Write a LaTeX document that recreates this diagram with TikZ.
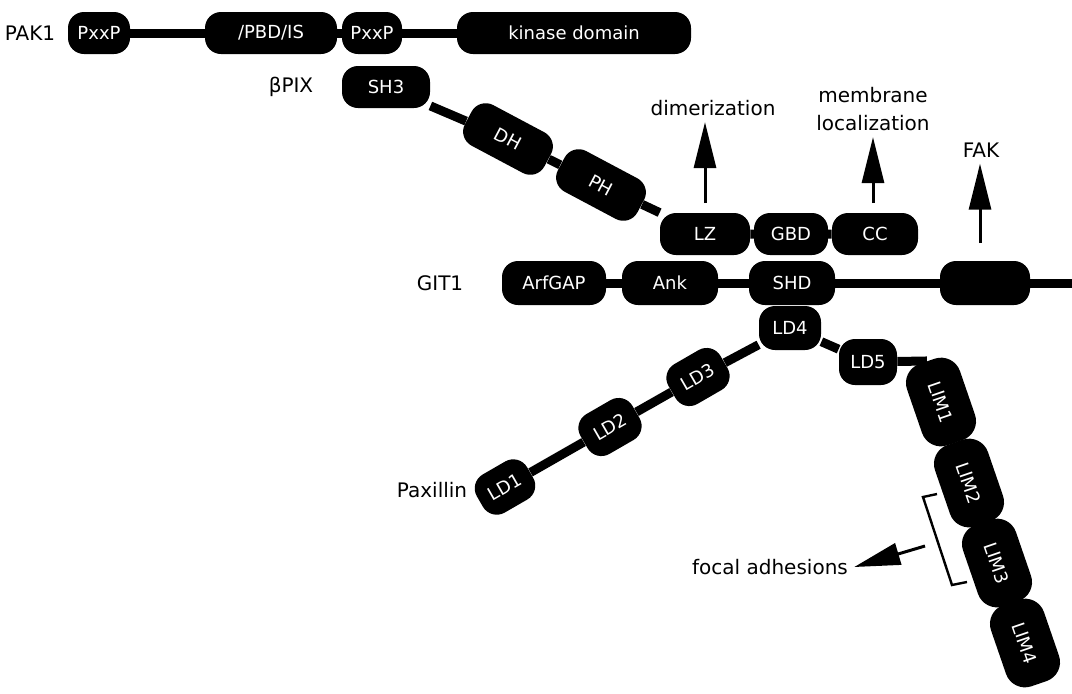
\documentclass[tikz,border=0pt]{standalone}
\usepackage{fontspec}
\setmainfont{DejaVu Sans}
\usetikzlibrary{arrows.meta, positioning, backgrounds}

\begin{document}
\begin{tikzpicture}[x=0.5pt, y=-0.5pt,
    dom/.style={fill=black, text=white, rounded corners=8pt, minimum height=21pt,
                inner sep=1pt, font=\small},
    lim/.style={dom, minimum width=43pt, minimum height=28pt, rotate=-71,
                rounded corners=10pt},
    lbl/.style={font=\fontsize{10}{14}\selectfont, inner sep=3pt},
    link/.style={line width=4.5pt},
    sig/.style={-{Triangle[length=23pt, width=11pt]}, line width=1.5pt}]
  \useasboundingbox (0,0) rectangle (1072,693);

  % PAK1
  \node[dom, minimum width=31pt] (pxx1) at (99,33) {PxxP};
  \node[dom, minimum width=66pt] (pbd) at (271,33) {/PBD/IS};
  \node[dom, minimum width=30pt] (pxx2) at (372,33) {PxxP};
  \node[dom, minimum width=117pt] (kin) at (574,33) {kinase domain};
  \node[lbl, left=3pt of pxx1] (pak) {PAK1};

  % betaPIX
  \node[dom, minimum width=44pt] (sh3) at (386,87) {SH3};
  \node[dom, minimum width=45pt, minimum height=23pt, rotate=-28] (dh) at (508,139) {DH};
  \node[dom, minimum width=45pt, minimum height=23pt, rotate=-28] (ph) at (601,185) {PH};
  \node[dom, minimum width=45pt] (lz) at (705,234) {LZ};
  \node[dom, minimum width=37pt] (gbd) at (791,234) {GBD};
  \node[dom, minimum width=43pt] (cc) at (875,234) {CC};
  \node[lbl, left=11pt of sh3] (pix) {βPIX};

  % GIT1
  \node[dom, minimum width=52pt, minimum height=22pt] (arf) at (554,283) {ArfGAP};
  \node[dom, minimum width=48pt, minimum height=22pt] (ank) at (670,283) {Ank};
  \node[dom, minimum width=43pt, minimum height=22pt] (shd) at (792,283) {SHD};
  \node[dom, minimum width=45pt, minimum height=22pt] (fah) at (985,283) {};
  \coordinate (gitend) at (1072,283);
  \node[lbl, left=16pt of arf] (git) {GIT1};

  % Paxillin
  \node[dom, minimum width=31pt, minimum height=22pt] (ld4) at (790,328) {LD4};
  \node[dom, minimum width=30pt, minimum height=23pt, rotate=30] (ld3) at (698,377) {LD3};
  \node[dom, minimum width=30pt, minimum height=23pt, rotate=30] (ld2) at (610,427) {LD2};
  \node[dom, minimum width=29pt, minimum height=22pt, rotate=30] (ld1) at (505,487) {LD1};
  \node[dom, minimum width=29pt, minimum height=23pt] (ld5) at (868,362) {LD5};
  \node[lim] (lim1) at (941,402) {LIM1};
  \node[lim] (lim2) at (969,483) {LIM2};
  \node[lim] (lim3) at (997,563) {LIM3};
  \node[lim] (lim4) at (1025,643) {LIM4};
  \node[lbl] (pax) at (432,490) {Paxillin};

  % linkers
  \begin{pgfonlayer}{background}
    \draw[link] (pxx1) -- (kin);
    \draw[link] (sh3) -- (dh) -- (ph) -- (lz) -- (cc);
    \draw[link] (arf) -- (gitend);
    \draw[link] (ld1) -- (ld2) -- (ld3) -- (ld4) -- (ld5) -- (lim1.west);
    \draw[link] (lim1) -- (lim4);
  \end{pgfonlayer}

  % functions
  \node[lbl] (dimer) at (713,108) {dimerization};
  \node[lbl, align=center] (memb) at (873,109) {membrane\\localization};
  \node[lbl] (fak) at (981,150) {FAK};
  \node[lbl] (focal) at (770,567) {focal adhesions};
  \coordinate (dimtail) at (705,203);
  \coordinate (membtail) at (873,203);
  \coordinate (faktail) at (980,243);
  \coordinate (focaltail) at (925,546);
  \draw[sig] (dimtail) -- (dimtail |- dimer.south);
  \draw[sig] (membtail) -- (membtail |- memb.south);
  \draw[sig] (faktail) -- (faktail |- fak.south);
  \draw[sig] (focaltail) -- (focal.east);
  \draw[line width=1.2pt] (937,494) -- (923,497) -- (952,585) -- (967,582);
\end{tikzpicture}
\end{document}
